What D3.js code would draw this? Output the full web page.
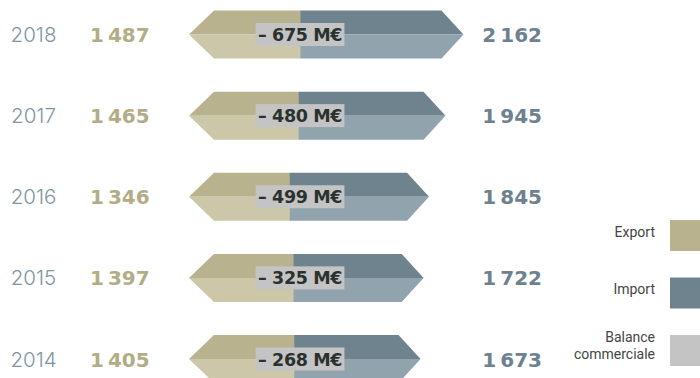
<!DOCTYPE html>
<html>
<head>
<meta charset="utf-8">
<script src="https://cdn.jsdelivr.net/npm/d3@7"></script>
<style>
  html, body { margin: 0; padding: 0; background: #ffffff; }
  svg { display: block; }
</style>
</head>
<body>
<svg id="chart" width="700" height="378"></svg>
<script>
// Trade balance, exports vs imports (M€), per year
const years      = ["2018", "2017", "2016", "2015", "2014"];
const exportsME  = [1487, 1465, 1346, 1397, 1405];
const importsME  = [2162, 1945, 1845, 1722, 1673];
const balanceME  = [-675, -480, -499, -325, -268];
const legendKeys = ["export", "import", "balance"];
const legendText = [["Export"], ["Import"], ["Balance", "commerciale"]];

const rows = years.map((year, i) => ({
  year, exp: exportsME[i], imp: importsME[i], bal: balanceME[i]
}));

const colors = {
  expTop: "#b8b38e", expBot: "#cbc7a8",
  impTop: "#6f838f", impBot: "#91a3ad",
  balance: "#c4c4c4",
  year: "#8095a2", expText: "#b3ad87", impText: "#6d828e",
  labelText: "#2b312e", legendText: "#444444"
};

const svg = d3.select("#chart");

// Rows run top to bottom; bars are stacked export + import on one value axis
const y = d3.scalePoint().domain(years).range([34.5, 359]);
const x = d3.scaleLinear()
  .domain([0, d3.max(rows, d => d.exp + d.imp)])
  .range([189, 463.5]);

const halfH = 24, tipL = 25, tipR = 22;
const fmt = d3.formatLocale({ decimal: ",", thousands: "\u2009", grouping: [3], currency: ["", " €"] }).format(",d");

const line = d3.line();

const row = svg.selectAll("g.row").data(rows).join("g").attr("class", "row");

// export half-arrows (pointing left)
row.append("path").attr("fill", colors.expTop).attr("d", d => {
  const m = y(d.year), L = x(0), S = x(d.exp);
  return line([[L, m], [L + tipL, m - halfH], [S, m - halfH], [S, m]]) + "Z";
});
row.append("path").attr("fill", colors.expBot).attr("d", d => {
  const m = y(d.year), L = x(0), S = x(d.exp);
  return line([[L, m], [S, m], [S, m + halfH], [L + tipL, m + halfH]]) + "Z";
});

// import half-arrows (pointing right)
row.append("path").attr("fill", colors.impTop).attr("d", d => {
  const m = y(d.year), S = x(d.exp), R = x(d.exp + d.imp);
  return line([[S - 0.5, m - halfH], [R - tipR, m - halfH], [R, m], [S - 0.5, m]]) + "Z";
});
row.append("path").attr("fill", colors.impBot).attr("d", d => {
  const m = y(d.year), S = x(d.exp), R = x(d.exp + d.imp);
  return line([[S - 0.5, m], [R, m], [R - tipR, m + halfH], [S - 0.5, m + halfH]]) + "Z";
});

// balance tag
const tagX = 300;
const tag = row.append("g").attr("transform", d => `translate(${tagX},${y(d.year)})`);
tag.append("rect").attr("fill", colors.balance);
const tagText = tag.append("text")
  .attr("text-anchor", "middle")
  .attr("y", 6.5)
  .attr("font-family", "'DejaVu Sans', sans-serif")
  .attr("font-weight", 700)
  .attr("font-size", 17.5)
  .attr("letter-spacing", -0.4)
  .attr("fill", colors.labelText)
  .text(d => "\u2013 " + fmt(Math.abs(d.bal)) + " M€");
tagText.each(function () {
  const b = this.getBBox();
  d3.select(this.parentNode).select("rect")
    .attr("x", b.x - 2.5).attr("width", b.width + 5)
    .attr("y", -11.5).attr("height", 23);
});

// year
row.append("text")
  .attr("x", 33.5).attr("y", d => y(d.year) + 7.5)
  .attr("text-anchor", "middle")
  .attr("font-family", "Inter, sans-serif")
  .attr("font-weight", 300)
  .attr("font-size", 20.5)
  .attr("fill", colors.year)
  .text(d => d.year);

// export value
row.append("text")
  .attr("x", 90).attr("y", d => y(d.year) + 7.5)
  .attr("font-family", "'DejaVu Sans', sans-serif")
  .attr("font-weight", 700)
  .attr("font-size", 20)
  .attr("fill", colors.expText)
  .text(d => fmt(d.exp));

// import value
row.append("text")
  .attr("x", 542).attr("y", d => y(d.year) + 7.5)
  .attr("text-anchor", "end")
  .attr("font-family", "'DejaVu Sans', sans-serif")
  .attr("font-weight", 700)
  .attr("font-size", 20)
  .attr("fill", colors.impText)
  .text(d => fmt(d.imp));

// legend
const legendY = d3.scalePoint().domain(legendKeys).range([235.5, 350.5]);
const legendFill = { export: colors.expTop, import: colors.impTop, balance: colors.balance };
const leg = svg.selectAll("g.legend").data(legendKeys).join("g")
  .attr("class", "legend")
  .attr("transform", k => `translate(0,${legendY(k)})`);
leg.append("rect")
  .attr("x", 670).attr("y", -15.5).attr("width", 34).attr("height", 31)
  .attr("fill", k => legendFill[k]);
leg.append("text")
  .attr("text-anchor", "end")
  .attr("font-family", "Roboto, sans-serif")
  .attr("font-size", 14)
  .attr("fill", colors.legendText)
  .each(function (k, i) {
    const lines = legendText[i];
    const t = d3.select(this);
    const first = lines.length === 1 ? 1 : -8.5;
    lines.forEach((s, j) => {
      t.append("tspan").attr("x", 655).attr("y", first + j * 17.3).text(s);
    });
  });
</script>
</body>
</html>
